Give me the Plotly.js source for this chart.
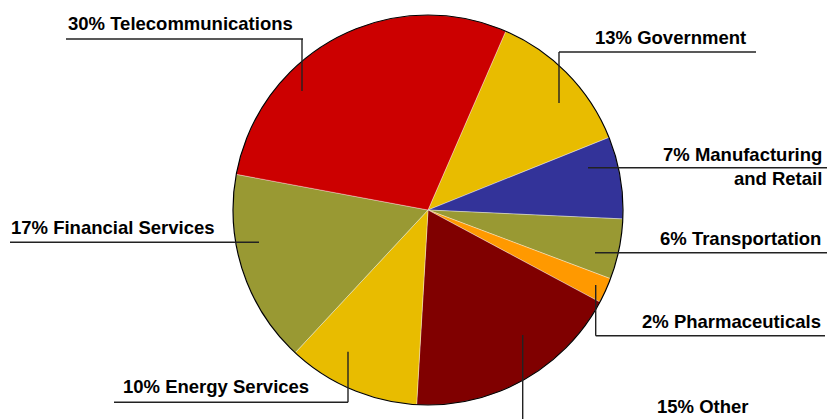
<!DOCTYPE html>
<html>
<head>
<meta charset="utf-8">
<script src="https://cdn.plot.ly/plotly-3.0.1.min.js"></script>
<style>html,body{margin:0;padding:0;background:#fff;}#chart{width:828px;height:419px;}</style>
</head>
<body>
<div id="chart"></div>
<script>
// Slice shares (clockwise, starting at Government)
var categories = ["Government", "Manufacturing and Retail", "Transportation", "Pharmaceuticals", "Other", "Energy Services", "Financial Services", "Telecommunications"];
var shares = [12.4, 6.8, 5.0, 2.1, 18.1, 11.0, 16.0, 28.6];
var labelTexts = ["13% Government", "7% Manufacturing<br>and Retail", "6% Transportation", "2% Pharmaceuticals", "15% Other", "10% Energy Services", "17% Financial Services", "30% Telecommunications"];
var sliceColors = ["#E8BC00", "#333399", "#999933", "#FF9900", "#800000", "#E8BC00", "#999933", "#CC0000"];

var W = 828, H = 419;
function px(x){ return x / W; }
function py(y){ return 1 - y / H; }

var dom = {x: [px(233), px(623)], y: [py(405), py(15)]};

var traces = [
  {
    type: "pie",
    labels: categories,
    values: shares,
    sort: false,
    direction: "clockwise",
    rotation: 23.5,
    marker: {colors: sliceColors, line: {color: "rgba(255,255,255,0.6)", width: 0.6}},
    textinfo: "none",
    hoverinfo: "label",
    showlegend: false,
    domain: dom
  },
  {
    type: "pie",
    labels: ["outline"],
    values: [1],
    sort: false,
    marker: {colors: ["rgba(0,0,0,0)"], line: {color: "#000", width: 1.2}},
    textinfo: "none",
    hoverinfo: "skip",
    showlegend: false,
    domain: dom
  }
];

var font = {family: "Liberation Sans, Arial, sans-serif", size: 18.5, color: "#000", weight: "bold"};

// label placement (pixel positions of text)
var labelPos = [
  {x: 595, y: 37.5, xa: "left"},
  {x: 822, y: 166, xa: "right"},
  {x: 821, y: 238.5, xa: "right"},
  {x: 821, y: 321.5, xa: "right"},
  {x: 657, y: 406.5, xa: "left"},
  {x: 123, y: 386.5, xa: "left"},
  {x: 11, y: 227.5, xa: "left"},
  {x: 68, y: 23.5, xa: "left"}
];

var annotations = labelPos.map(function(p, i){
  return {
    xref: "paper", yref: "paper",
    x: px(p.x), y: py(p.y),
    xanchor: p.xa, yanchor: "middle",
    text: "<b>" + labelTexts[i] + "</b>",
    showarrow: false, align: "right",
    font: font, borderpad: 0, borderwidth: 0
  };
});

// leader lines in pixel space
var segs = [
  [66, 39, 303, 39], [302, 39, 302, 91],
  [559, 52, 756, 52], [559, 52, 559, 103],
  [588, 167.7, 827, 167.7],
  [595, 252.7, 827, 252.7],
  [595.7, 335.7, 825, 335.7], [595.7, 285, 595.7, 335.7],
  [522.7, 335, 522.7, 420],
  [114, 402.3, 348, 402.3], [348, 351.7, 348, 402.3],
  [10, 242.3, 259, 242.3]
];
var shapes = segs.map(function(s){
  return {type: "line", xref: "paper", yref: "paper",
    x0: px(s[0]), y0: py(s[1]), x1: px(s[2]), y1: py(s[3]),
    line: {color: "#222", width: 1.4}};
});

var layout = {
  width: W, height: H,
  margin: {l: 0, r: 0, t: 0, b: 0},
  paper_bgcolor: "#fff",
  plot_bgcolor: "#fff",
  showlegend: false,
  annotations: annotations,
  shapes: shapes
};

Plotly.newPlot("chart", traces, layout, {displayModeBar: false, staticPlot: true});
</script>
</body>
</html>
